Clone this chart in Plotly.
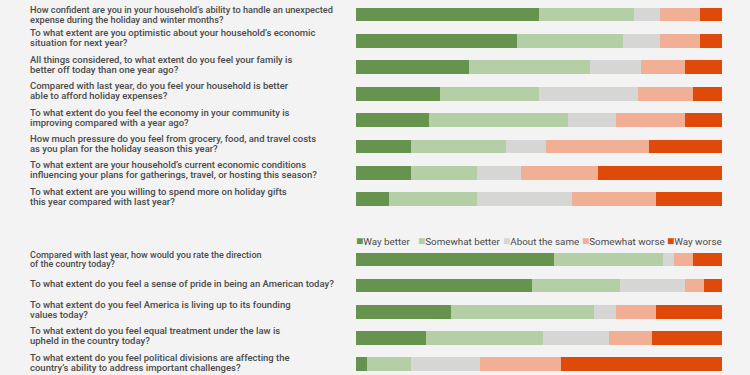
import plotly.graph_objects as go

# ---------------- data ----------------
series_names = ["Way better", "Somewhat better", "About the same", "Somewhat worse", "Way worse"]
series_colors = ["#66944f", "#b4cea6", "#d6d6d4", "#f1b096", "#df4a0a"]

questions_top = [
    "How confident are you in your household’s ability to handle an unexpected<br>expense during the holiday and winter months?",
    "To what extent are you optimistic about your household’s economic<br>situation for next year?",
    "All things considered, to what extent do you feel your family is<br>better off today than one year ago?",
    "Compared with last year, do you feel your household is better<br>able to afford holiday expenses?",
    "To what extent do you feel the economy in your community is<br>improving compared with a year ago?",
    "How much pressure do you feel from grocery, food, and travel costs<br>as you plan for the holiday season this year?",
    "To what extent are your household’s current economic conditions<br>influencing your plans for gatherings, travel, or hosting this season?",
    "To what extent are you willing to spend more on holiday gifts<br>this year compared with last year?",
]
way_better_top = [50, 44, 31, 23, 20, 15, 15, 9]
somewhat_better_top = [26, 29, 33, 27, 38, 26, 18, 24]
about_same_top = [7, 10, 14, 27, 13, 11, 12, 26]
somewhat_worse_top = [11, 11, 12, 15, 19, 28, 21, 23]
way_worse_top = [6, 6, 10, 8, 10, 20, 34, 18]

questions_bottom = [
    "Compared with last year, how would you rate the direction<br>of the country today?",
    "To what extent do you feel a sense of pride in being an American today?",
    "To what extent do you feel America is living up to its founding<br>values today?",
    "To what extent do you feel equal treatment under the law is<br>upheld in the country today?",
    "To what extent do you feel political divisions are affecting the<br>country’s ability to address important challenges?",
]
way_better_bottom = [54, 48, 26, 19, 3]
somewhat_better_bottom = [30, 24, 39, 32, 12]
about_same_bottom = [3, 18, 6, 18, 19]
somewhat_worse_bottom = [5, 5, 11, 12, 22]
way_worse_bottom = [8, 5, 18, 19, 44]

# ---------------- figure ----------------
FONT = "Roboto"
TEXT_COLOR = "#4a4a4a"
BG = "#f3f3f3"

fig = go.Figure()

top_series = [way_better_top, somewhat_better_top, about_same_top, somewhat_worse_top, way_worse_top]
bottom_series = [way_better_bottom, somewhat_better_bottom, about_same_bottom, somewhat_worse_bottom, way_worse_bottom]

for name, color, vals in zip(series_names, series_colors, top_series):
    fig.add_trace(go.Bar(x=vals, y=questions_top, orientation="h", name=name,
                         marker=dict(color=color, line=dict(width=0)),
                         xaxis="x", yaxis="y", showlegend=False, hoverinfo="x+name"))
for name, color, vals in zip(series_names, series_colors, bottom_series):
    fig.add_trace(go.Bar(x=vals, y=questions_bottom, orientation="h", name=name,
                         marker=dict(color=color, line=dict(width=0)),
                         xaxis="x", yaxis="y2", showlegend=False, hoverinfo="x+name"))

annotations = []


def add_question(q, yref, size, spacing, lift):
    lines = q.split("<br>")
    n = len(lines)
    for i, ln in enumerate(lines):
        shift = lift + (n - 1) / 2 * spacing - i * spacing
        annotations.append(dict(
            text=ln, xref="paper", yref=yref, x=29 / 750, y=q,
            xanchor="left", yanchor="middle", yshift=shift, showarrow=False,
            borderpad=0,
            font=dict(family=FONT, size=size, color=TEXT_COLOR, weight=500),
        ))


for i, q in enumerate(questions_top):
    if i == 0:
        add_question(q, "y", 9.2, 9.4, 0)
    else:
        add_question(q, "y", 9.5, 10, 3)
for i, q in enumerate(questions_bottom):
    if i == 0:
        add_question(q, "y2", 9.0, 9.2, 0)
    else:
        add_question(q, "y2", 9.5, 10, 2)

# legend as text
legend_x = [355, 417, 502, 581, 666]
for name, color, lx in zip(series_names, series_colors, legend_x):
    annotations.append(dict(
        text=f"<span style='color:{color};font-size:12px'>■</span>{name}",
        xref="paper", yref="paper", x=lx / 750, y=1 - 240.5 / 375,
        xanchor="left", yanchor="middle", showarrow=False, borderpad=0,
        font=dict(family=FONT, size=9.8, color=TEXT_COLOR),
    ))

fig.update_layout(
    width=750, height=375,
    margin=dict(l=0, r=0, t=0, b=0),
    paper_bgcolor=BG, plot_bgcolor=BG,
    barmode="stack", bargap=0.48,
    xaxis=dict(domain=[356 / 750, 722 / 750], range=[0, 100], visible=False, fixedrange=True),
    yaxis=dict(domain=[1 - 213.785 / 375, 1 - 1.215 / 375], autorange="reversed",
               visible=False, anchor="x", fixedrange=True),
    yaxis2=dict(domain=[0, 1 - 246.44 / 375], range=[4.421, -0.5],
                visible=False, anchor="x", fixedrange=True),
    annotations=annotations,
    showlegend=False,
)

fig.write_html("out.html", config={"displayModeBar": False},
               post_script="document.body.style.margin='0';document.body.style.background='#f3f3f3';")
